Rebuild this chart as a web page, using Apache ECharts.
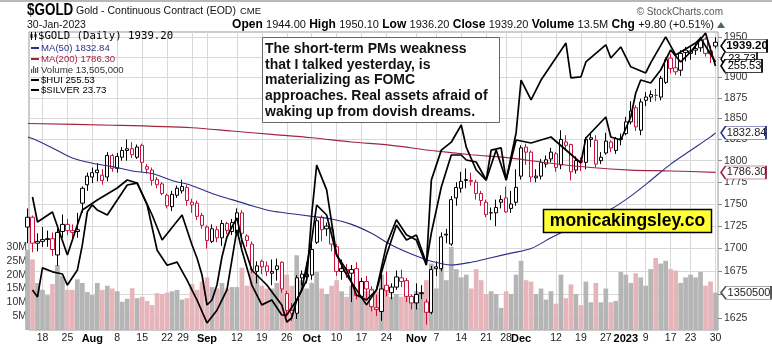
<!DOCTYPE html>
<html>
<head>
<meta charset="utf-8">
<title>$GOLD daily</title>
<script src="https://cdn.jsdelivr.net/npm/echarts@6.0.0/dist/echarts.min.js"></script>
<style>
  html, body { margin: 0; padding: 0; background: #fff; }
  #chart { width: 772px; height: 345px; }
</style>
</head>
<body>
<div id="chart"></div>
<script>
// ---- trading sessions (first one only peeks in at the left edge) ----
const dates = [
  '2022-07-13','2022-07-14','2022-07-15','2022-07-18','2022-07-19','2022-07-20','2022-07-21','2022-07-22','2022-07-25','2022-07-26','2022-07-27','2022-07-28','2022-07-29',
  '2022-08-01','2022-08-02','2022-08-03','2022-08-04','2022-08-05','2022-08-08','2022-08-09','2022-08-10','2022-08-11','2022-08-12','2022-08-15','2022-08-16','2022-08-17','2022-08-18','2022-08-19','2022-08-22','2022-08-23','2022-08-24','2022-08-25','2022-08-26','2022-08-29','2022-08-30','2022-08-31',
  '2022-09-01','2022-09-02','2022-09-06','2022-09-07','2022-09-08','2022-09-09','2022-09-12','2022-09-13','2022-09-14','2022-09-15','2022-09-16','2022-09-19','2022-09-20','2022-09-21','2022-09-22','2022-09-23','2022-09-26','2022-09-27','2022-09-28','2022-09-29','2022-09-30',
  '2022-10-03','2022-10-04','2022-10-05','2022-10-06','2022-10-07','2022-10-10','2022-10-11','2022-10-12','2022-10-13','2022-10-14','2022-10-17','2022-10-18','2022-10-19','2022-10-20','2022-10-21','2022-10-24','2022-10-25','2022-10-26','2022-10-27','2022-10-28','2022-10-31',
  '2022-11-01','2022-11-02','2022-11-03','2022-11-04','2022-11-07','2022-11-08','2022-11-09','2022-11-10','2022-11-11','2022-11-14','2022-11-15','2022-11-16','2022-11-17','2022-11-18','2022-11-21','2022-11-22','2022-11-23','2022-11-25','2022-11-28','2022-11-29','2022-11-30',
  '2022-12-01','2022-12-02','2022-12-05','2022-12-06','2022-12-07','2022-12-08','2022-12-09','2022-12-12','2022-12-13','2022-12-14','2022-12-15','2022-12-16','2022-12-19','2022-12-20','2022-12-21','2022-12-22','2022-12-23','2022-12-27','2022-12-28','2022-12-29','2022-12-30',
  '2023-01-03','2023-01-04','2023-01-05','2023-01-06','2023-01-09','2023-01-10','2023-01-11','2023-01-12','2023-01-13','2023-01-17','2023-01-18','2023-01-19','2023-01-20','2023-01-23','2023-01-24','2023-01-25','2023-01-26','2023-01-27','2023-01-30'
];

// ---- $GOLD daily prices ----
const open = [
  1724,1735,1706,1708,1710,1711,1693,1719,1727,1720,1719,1751,1772,
  1781,1786,1783,1781,1806,1791,1804,1812,1814,1804,1818,1793,1789,1778,1773,1760,1747,1760,1765,1769,1752,1751,1737,
  1724,1708,1721,1712,1728,1719,1717,1740,1714,1705,1675,1686,1681,1673,1677,1685,1651,1633,1630,1668,1669,
  1671,1707,1735,1725,1721,1702,1675,1677,1673,1678,1648,1664,1655,1636,1632,1660,1652,1658,1668,1665,1648,
  1641,1652,1642,1631,1678,1678,1716,1705,1757,1768,1778,1777,1775,1762,1752,1740,1740,1752,1757,1745,1752,
  1782,1816,1810,1780,1782,1796,1802,1808,1795,1822,1819,1789,1800,1798,1825,1824,1800,1809,1822,1812,1825,
  1832,1846,1863,1836,1872,1876,1878,1876,1894,1924,1912,1909,1934,1930,1934,1937,1948,1933,1944
];
const close = [
  1735,1706,1708,1710,1711,1699,1718,1727,1720,1718,1721,1768,1782,
  1786,1789,1777,1806,1791,1805,1812,1814,1807,1816,1798,1790,1777,1772,1762,1748,1761,1768,1770,1754,1749,1736,1726,
  1709,1722,1712,1728,1720,1729,1740,1717,1709,1677,1681,1680,1675,1675,1681,1656,1633,1630,1668,1672,1672,
  1699,1731,1721,1722,1705,1675,1678,1674,1677,1649,1664,1656,1637,1634,1656,1654,1658,1669,1664,1648,1641,
  1650,1651,1631,1677,1680,1713,1715,1755,1769,1776,1777,1776,1762,1754,1738,1740,1746,1755,1741,1750,1769,
  1815,1810,1781,1782,1798,1801,1810,1792,1825,1818,1787,1800,1798,1825,1827,1796,1804,1823,1815,1826,1826,
  1846,1859,1840,1870,1876,1879,1878,1899,1922,1911,1907,1930,1931,1933,1936,1947,1930,1929.4,1939.2
];
const low = [
  1706,1696,1697,1702,1702,1692,1681,1712,1715,1711,1712,1740,1765,
  1774,1776,1772,1776,1787,1786,1800,1800,1803,1802,1787,1785,1771,1768,1760,1745,1742,1757,1762,1748,1740,1732,1722,
  1700,1706,1707,1703,1716,1715,1714,1698,1702,1673,1662,1672,1670,1660,1665,1652,1626,1622,1624,1660,1662,
  1666,1705,1708,1714,1697,1670,1666,1668,1642,1645,1646,1645,1632,1627,1622,1648,1645,1655,1658,1642,1634,
  1634,1645,1618,1629,1670,1675,1706,1703,1748,1763,1768,1771,1755,1748,1735,1732,1725,1745,1740,1740,1748,
  1778,1795,1775,1775,1778,1792,1798,1787,1790,1812,1777,1785,1788,1790,1816,1792,1796,1807,1810,1808,1818,
  1830,1843,1835,1830,1865,1870,1871,1872,1892,1905,1903,1902,1920,1922,1928,1932,1926,1918,1936.2
];
const high = [
  1745,1737,1717,1724,1720,1718,1722,1738,1733,1727,1740,1770,1786,
  1792,1797,1790,1810,1808,1809,1816,1825,1822,1819,1820,1796,1792,1781,1775,1762,1765,1771,1778,1772,1756,1754,1740,
  1726,1727,1725,1732,1730,1733,1745,1743,1716,1708,1686,1688,1686,1688,1689,1686,1654,1641,1671,1676,1685,
  1706,1734,1737,1729,1724,1705,1688,1683,1682,1685,1668,1670,1659,1650,1672,1675,1662,1676,1677,1668,1650,
  1662,1660,1645,1681,1686,1718,1722,1759,1775,1787,1791,1786,1778,1765,1755,1746,1755,1760,1770,1765,1790,
  1818,1820,1812,1790,1802,1806,1815,1810,1836,1830,1820,1805,1804,1828,1833,1830,1810,1833,1824,1828,1832,
  1852,1871,1866,1874,1882,1884,1886,1902,1925,1929,1925,1934,1938,1938,1942,1951,1950,1940,1950.1
];
// daily volume, millions
const volumeM = [
  29,25.5,17,14.5,12.6,16.6,23.5,19.5,14.5,14.5,18.3,17,13.7,
  12.6,17,14.5,16,15,14,10.2,11.3,15.1,11.5,12,10.5,9,13.3,13,13.5,14,14.5,11,11.5,16.6,14.5,17.5,
  19,15.5,15,17,15,15.5,15.5,22.5,16,22.5,20,16,15,15,17,18,20,16,27,18,15,
  17,21,15,13,16,18,14,12,16,15,13,14,15,14,20,14,12,13,12,13,12,
  14,13,18,24,15,25,18,30,22,19,20,15,22,18,13,14,13,8,14,13,20,
  25,18,17.5,13,15,11,14,9.5,20,11.5,16.5,13,9,17.5,10,17,10,15,10,10.5,21,
  20,17,20.5,19,16,22,26,24,25,22,21.5,17,19,20,19,21,16,17.5,13.505
];

// ---- moving averages, read at regular session steps [session index, value] ----
const ma50Pts = [[0,1828],[1,1826],[5,1815],[9,1803],[13,1797],[17,1793],[21,1788],[25,1785],[29,1777],[33,1771],[37,1762],[41,1755],[45,1748],[49,1742],[53,1739],[57,1736],[61,1733],[65,1727],[69,1717],[73,1704],[77,1694],[81,1686],[85,1682],[89,1685],[93,1690],[97,1695],[101,1700],[105,1712],[109,1723],[113,1733],[117,1744],[121,1759],[125,1777],[129,1796],[133,1812],[137,1828],[138,1832.84]];
const ma200Pts = [[0,1844],[17,1842],[33,1839],[41,1835],[49,1831],[57,1827],[65,1822],[73,1818],[81,1812],[89,1807],[97,1803],[105,1797],[113,1792],[121,1789],[129,1788],[138,1786.30]];

// ---- overlay comparisons (own scales) ----
const huiPts = [[1,216.2],[2,208.7],[5,211.7],[8,198.8],[11,212.3],[14,215.3],[18,218.9],[20,221.3],[22,220.4],[25,210.8],[27,203.3],[31,210.8],[33,201.8],[34,197.9],[35,192.8],[36,183.8],[37,185.3],[38,189.8],[39,198.2],[40,204.2],[41,207.2],[42,209.9],[43,203.3],[44,198.8],[45,194.3],[48,189.8],[51,183.8],[52,178.7],[53,179.9],[54,185.3],[55,188.3],[57,203.3],[58,213.8],[60,210.8],[62,198.8],[64,194.3],[66,186.8],[68,185.3],[70,188.3],[72,198.8],[74,207.8],[76,203.3],[78,204.8],[80,196.4],[81,205.4],[83,219.2],[85,228.8],[87,228.8],[88,227.3],[90,226.7],[92,221.3],[94,230.3],[96,221.3],[98,233.3],[101,232.4],[105,234.2],[108,230.3],[111,226.4],[112,233.9],[116,240.2],[117,234.2],[119,233.3],[121,240.2],[122,247.4],[123,251.3],[125,250.4],[127,254.3],[129,260.3],[131,256.7],[133,259.7],[136,265.4],[138,255.53]];
const silverPts = [[1,18.56],[2,18.40],[3,19.06],[5,18.97],[7,18.92],[8,18.67],[10,19.01],[11,19.58],[12,20.33],[13,20.49],[14,20.37],[16,20.26],[18,20.60],[20,20.94],[22,20.98],[24,20.49],[26,19.46],[28,19.12],[30,19.19],[32,18.78],[34,18.33],[36,17.81],[38,18.10],[40,18.56],[42,19.92],[43,19.46],[45,18.67],[47,18.22],[49,18.33],[51,17.99],[52,17.99],[54,18.33],[56,18.78],[57,20.26],[58,21.39],[60,20.83],[62,19.35],[64,18.90],[66,18.56],[68,18.22],[70,18.56],[72,19.58],[74,20.15],[76,19.81],[78,19.69],[80,19.12],[81,21.05],[83,21.73],[85,21.91],[87,22.30],[88,21.80],[90,21.28],[92,21.05],[93,21.73],[95,21.78],[96,21.05],[98,22.12],[99,23.32],[101,22.87],[103,23.32],[108,24.16],[109,23.37],[111,23.39],[112,23.73],[116,24.12],[117,23.82],[119,24.07],[121,23.62],[124,23.48],[125,23.71],[128,24.30],[130,23.89],[134,24.16],[135,24.27],[138,23.73]];

// ---- axis ticks ----
const tickDates = ['2022-07-18','2022-07-25','2022-08-01','2022-08-08','2022-08-15','2022-08-22','2022-08-29','2022-09-01','2022-09-12','2022-09-19','2022-09-26','2022-10-03','2022-10-10','2022-10-17','2022-10-24','2022-11-01','2022-11-07','2022-11-14','2022-11-21','2022-11-28','2022-12-01','2022-12-12','2022-12-19','2022-12-27','2023-01-03','2023-01-09','2023-01-17','2023-01-23','2023-01-30'];
const tickLabels = ['18','25','Aug','8','15','22','29','Sep','12','19','26','Oct','10','17','24','Nov','7','14','21','28','Dec','12','19','27','2023','9','17','23','30'];
const boldLabels = ['Aug','Sep','Oct','Nov','Dec','2023'];
const priceTicks = [1625,1650,1675,1700,1725,1750,1775,1800,1825,1850,1875,1900,1925,1950];
const volumeTicks = [5,10,15,20,25,30];

// ---- styling ----
const FONT = '"Liberation Sans", Arial, sans-serif';
const MONO = '"DejaVu Sans Mono", "Liberation Mono", monospace';
const INK = '#000000';
const RED = '#c8143c';
const NAVY = '#2b2f86';
const MAROON = '#a3243f';
const VOL_UP = '#b5b5b5';
const VOL_DOWN = '#e5b5ba';
const GRID = '#d8d8d8';

const K = dates.length;
const last = K - 1;
const isUp = k => (k === 0 ? close[k] >= open[k] : close[k] >= close[k - 1]);

const candleData = dates.map((d, k) => {
  const col = isUp(k) ? INK : RED;
  return {
    value: [k, open[k], close[k], low[k], high[k]],
    itemStyle: { color: '#ffffff', color0: col, borderColor: col, borderColor0: col, borderColorDoji: col }
  };
});
const volumeData = dates.map((d, k) => ({
  value: [k, volumeM[k]],
  itemStyle: { color: isUp(k) ? VOL_UP : VOL_DOWN }
}));
const tickIdx = tickDates.map(d => dates.indexOf(d));

// value tag sitting just right of the plot, pointing at the last value
function endTag(k, v, text, o) {
  const w = o.w;
  return {
    silent: true,
    symbol: 'path://M0,6.5L6,0L60,0L60,13L6,13Z',
    symbolKeepAspect: false,
    data: [{
      coord: [k, v],
      symbolSize: [w, 13],
      symbolOffset: [5.5 + w / 2, o.dy || 0],
      itemStyle: { color: '#ffffff', borderColor: o.border, borderWidth: 1 },
      label: {
        show: true, position: 'inside', offset: [3, 0], formatter: text,
        color: o.color, fontSize: o.size || 11, fontWeight: o.bold ? 'bold' : 'normal', fontFamily: FONT
      }
    }]
  };
}

const lastMa50 = ma50Pts[ma50Pts.length - 1][1];
const lastMa200 = ma200Pts[ma200Pts.length - 1][1];
const lastHui = huiPts[huiPts.length - 1][1];
const lastSilver = silverPts[silverPts.length - 1][1];
const lastVol = Math.round(volumeM[last] * 1e6);

const prevClose = close[last - 1];
const chg = close[last] - prevClose;
const pct = chg / prevClose * 100;
const sgn = v => (v >= 0 ? '+' : '') + v.toFixed(2);
const headerText =
  '{k|Open} {v|' + open[last].toFixed(2) + '} {k|High} {v|' + high[last].toFixed(2) +
  '} {k|Low} {v|' + low[last].toFixed(2) + '} {k|Close} {v|' + close[last].toFixed(2) +
  '} {k|Volume} {v|' + (volumeM[last]).toFixed(1) + 'M} {k|Chg} {v|' + sgn(chg) + ' (' + sgn(pct) + '%)}';

// legend block in the upper-left corner of the price panel
const legendRows = [
  { y: 36, text: '$GOLD (Daily) ' + close[last].toFixed(2), color: INK, font: '10.7px ' + MONO, icon: 'candle', tx: 38 },
  { y: 48, text: 'MA(50) ' + lastMa50.toFixed(2), color: NAVY, icon: 'dash', iconColor: NAVY },
  { y: 59, text: 'MA(200) ' + lastMa200.toFixed(2), color: MAROON, icon: 'dash', iconColor: MAROON },
  { y: 70, text: 'Volume ' + lastVol.toLocaleString('en-US'), color: '#333', icon: 'vol' },
  { y: 80, text: '$HUI ' + lastHui.toFixed(2), color: INK, icon: 'dash', iconColor: INK },
  { y: 90, text: '$SILVER ' + lastSilver.toFixed(2), color: INK, icon: 'dash', iconColor: INK }
];
const legendGraphics = [];
legendRows.forEach(r => {
  if (r.icon === 'dash') {
    legendGraphics.push({ type: 'rect', z: 100, shape: { x: 31, y: r.y - 1, width: 8, height: 2 }, style: { fill: r.iconColor } });
  } else if (r.icon === 'vol') {
    [[31, 4], [33, 7], [35, 5], [37, 6]].forEach(([x, h]) => legendGraphics.push({ type: 'rect', z: 100, shape: { x: x, y: r.y + 3 - h, width: 1.2, height: h }, style: { fill: '#555' } }));
  } else if (r.icon === 'candle') {
    legendGraphics.push({ type: 'line', z: 100, shape: { x1: 31.5, y1: r.y - 4, x2: 31.5, y2: r.y + 4 }, style: { stroke: INK, lineWidth: 1 } });
    legendGraphics.push({ type: 'rect', z: 100, shape: { x: 30.5, y: r.y - 2, width: 2, height: 4 }, style: { fill: INK } });
    legendGraphics.push({ type: 'line', z: 100, shape: { x1: 35.5, y1: r.y - 4, x2: 35.5, y2: r.y + 4 }, style: { stroke: INK, lineWidth: 1 } });
    legendGraphics.push({ type: 'rect', z: 100, shape: { x: 34.5, y: r.y - 2, width: 2, height: 3 }, style: { fill: INK } });
  }
  legendGraphics.push({
    type: 'text', z: 100, x: r.tx || 41, y: r.y,
    style: { text: r.text, fill: r.color, font: r.font || ('9.6px ' + FONT), verticalAlign: 'middle', align: 'left' }
  });
});

const noteLines = [
  'The short-term PMs weakness',
  'that I talked yesterday, is',
  'materializing as FOMC',
  'approaches. Real assets afraid of',
  'waking up from dovish dreams.'
];

const chart = echarts.init(document.getElementById('chart'), null, { renderer: 'canvas' });

chart.setOption({
  animation: false,
  backgroundColor: '#ffffff',
  grid: { left: 29, right: 54, top: 32, bottom: 15, show: true, borderColor: '#9a9a9a', borderWidth: 1, backgroundColor: '#ffffff' },
  xAxis: {
    type: 'value', min: 0.298, max: 138.5,
    axisLine: { show: false },
    axisTick: { show: false, customValues: tickIdx },
    splitLine: { show: true, lineStyle: { color: GRID, width: 1 } },
    axisLabel: {
      customValues: tickIdx, margin: 3, fontSize: 10.5, color: '#222', fontFamily: FONT,
      formatter: v => {
        const t = tickLabels[tickIdx.indexOf(Math.round(v))];
        if (t === undefined) return '';
        if (boldLabels.indexOf(t) >= 0) return '{b|' + t + '}';
        if (t === '29') return '{s|' + t + '}';
        return t;
      },
      rich: {
        b: { fontWeight: 'bold', fontSize: 11, color: '#000', fontFamily: FONT },
        s: { fontSize: 10.5, color: '#222', fontFamily: FONT, padding: [0, 18, 0, 0] }
      }
    }
  },
  yAxis: [
    {
      type: 'log', logBase: 10, position: 'right', min: 1612.4, max: 1957,
      axisLine: { show: false },
      axisTick: { show: true, inside: false, length: 4, customValues: priceTicks, lineStyle: { color: '#8a8a8a' } },
      splitLine: { show: true, lineStyle: { color: GRID, width: 1 } },
      axisLabel: { customValues: priceTicks, margin: 6, fontSize: 10.5, color: '#333', fontFamily: FONT, formatter: v => String(Math.round(v)) }
    },
    {
      type: 'value', position: 'left', min: 0, max: 107.7,
      axisLine: { show: false },
      axisTick: { show: false, customValues: volumeTicks },
      splitLine: { show: false },
      axisLabel: { customValues: volumeTicks, margin: 2, fontSize: 10.5, color: '#333', fontFamily: FONT, formatter: v => v + 'M' }
    },
    { type: 'value', show: false, min: 176.3, max: 265.7, splitLine: { show: false } },
    { type: 'value', show: false, min: 17.65, max: 24.41, splitLine: { show: false } }
  ],
  series: [
    {
      name: 'Volume', type: 'bar', yAxisIndex: 1, z: 1, barWidth: 4.7,
      data: volumeData,
      markPoint: endTag(last, volumeM[last], String(lastVol).slice(0, 7), { w: 50, border: '#555', color: '#222' })
    },
    {
      name: '$GOLD', type: 'candlestick', yAxisIndex: 0, z: 3, barWidth: 3.8,
      data: candleData,
      markPoint: endTag(last, close[last], close[last].toFixed(2), { w: 46, border: INK, color: INK, bold: true, size: 11.5 })
    },
    {
      name: 'MA(200)', type: 'line', yAxisIndex: 0, z: 4, data: ma200Pts, smooth: 0.3,
      showSymbol: false, lineStyle: { color: MAROON, width: 1.1 },
      markPoint: endTag(last, lastMa200, lastMa200.toFixed(2), { w: 45, border: MAROON, color: '#222' })
    },
    {
      name: 'MA(50)', type: 'line', yAxisIndex: 0, z: 4, data: ma50Pts, smooth: 0.3,
      showSymbol: false, lineStyle: { color: NAVY, width: 1.1 },
      markPoint: endTag(last, lastMa50, lastMa50.toFixed(2), { w: 45, border: NAVY, color: '#222' })
    },
    {
      name: '$SILVER', type: 'line', yAxisIndex: 3, z: 5, data: silverPts,
      showSymbol: false, lineStyle: { color: INK, width: 1.7 },
      markPoint: endTag(last, lastSilver, lastSilver.toFixed(2), { w: 36, border: INK, color: INK, dy: -3 })
    },
    {
      name: '$HUI', type: 'line', yAxisIndex: 2, z: 6, data: huiPts,
      showSymbol: false, lineStyle: { color: INK, width: 1.7 },
      markPoint: endTag(last, lastHui, lastHui.toFixed(2), { w: 41, border: INK, color: INK })
    }
  ],
  graphic: [
    { type: 'rect', z: 100, shape: { x: 0, y: 0, width: 772, height: 2 }, style: { fill: '#b8b8b8' } },
    { type: 'text', z: 100, x: 27, y: 11, scaleX: 0.84, style: { text: '$GOLD', font: 'bold 16px ' + FONT, fill: INK, verticalAlign: 'middle' } },
    { type: 'text', z: 100, x: 76, y: 11, style: { text: 'Gold - Continuous Contract (EOD)', font: '10.5px ' + FONT, fill: '#111', verticalAlign: 'middle' } },
    { type: 'text', z: 100, x: 240, y: 11.5, style: { text: 'CME', font: '9.5px ' + FONT, fill: '#111', verticalAlign: 'middle' } },
    { type: 'text', z: 100, x: 723, y: 12, style: { text: '\u00a9 StockCharts.com', font: '10px ' + FONT, fill: '#555', align: 'right', verticalAlign: 'middle' } },
    { type: 'text', z: 100, x: 27, y: 25, style: { text: '30-Jan-2023', font: '10.5px ' + FONT, fill: '#111', verticalAlign: 'middle' } },
    {
      type: 'text', z: 100, x: 714, y: 25,
      style: {
        text: headerText, align: 'right', verticalAlign: 'middle',
        rich: {
          k: { fontWeight: 'bold', fontSize: 12, fontFamily: FONT, fill: INK },
          v: { fontSize: 11, fontFamily: FONT, fill: '#111' }
        }
      }
    },
    { type: 'polygon', z: 100, shape: { points: [[717, 28], [725, 28], [721, 22]] }, style: { fill: '#4c6a55' } },
    ...legendGraphics,
    { type: 'rect', z: 100, shape: { x: 262.5, y: 37.5, width: 237, height: 85 }, style: { fill: '#ffffff', stroke: '#666', lineWidth: 1 } },
    {
      type: 'text', z: 101, x: 265, y: 41,
      style: { text: noteLines.join('\n'), font: 'bold 14px ' + FONT, fill: '#111', lineHeight: 15.8, verticalAlign: 'top' }
    },
    { type: 'rect', z: 100, shape: { x: 543.5, y: 209.5, width: 168, height: 23 }, style: { fill: '#ffff33', stroke: '#000', lineWidth: 1.5 } },
    { type: 'text', z: 101, x: 627.5, y: 221.5, style: { text: 'monicakingsley.co', font: 'bold 17.5px ' + FONT, fill: '#000', align: 'center', verticalAlign: 'middle' } }
  ]
});
</script>
</body>
</html>
